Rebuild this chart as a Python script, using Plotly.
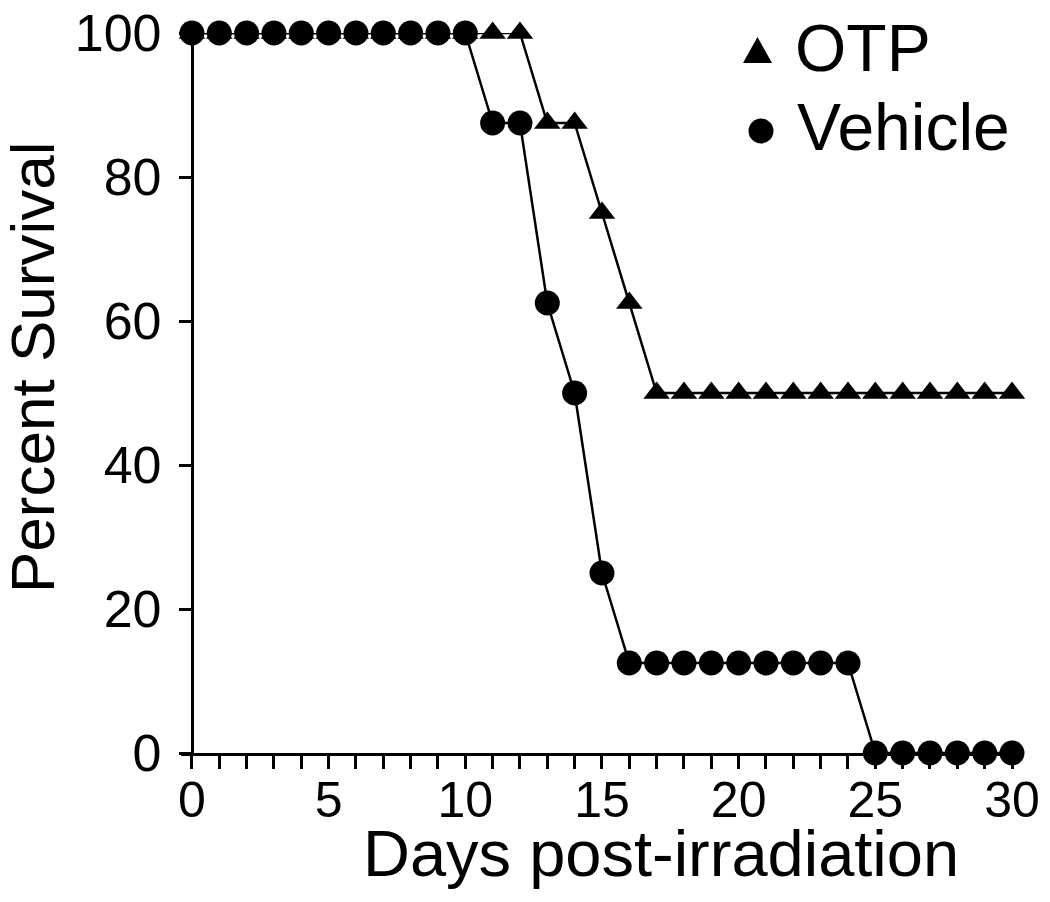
import plotly.graph_objects as go

days = [0, 1, 2, 3, 4, 5, 6, 7, 8, 9, 10, 11, 12, 13, 14, 15,
        16, 17, 18, 19, 20, 21, 22, 23, 24, 25, 26, 27, 28, 29, 30]
otp = [100, 100, 100, 100, 100, 100, 100, 100, 100, 100, 100, 100, 100,
       87.5, 87.5, 75, 62.5,
       50, 50, 50, 50, 50, 50, 50, 50, 50, 50, 50, 50, 50, 50]
vehicle = [100, 100, 100, 100, 100, 100, 100, 100, 100, 100, 100,
           87.5, 87.5, 62.5, 50, 25,
           12.5, 12.5, 12.5, 12.5, 12.5, 12.5, 12.5, 12.5, 12.5,
           0, 0, 0, 0, 0, 0]
series_names = ["OTP", "Vehicle"]
x_ticks = [0, 5, 10, 15, 20, 25, 30]
y_ticks = [0, 20, 40, 60, 80, 100]

FONT = "Arial, Liberation Sans, Helvetica, sans-serif"
X0 = -0.4
X1 = 30

# the page body adds an 8 px margin around the figure
OFF = 8
W, H = 1050, 902
# plot-area box in window pixels
L, R, T, B = 181, 1012, 33, 753
def px(xp):
    return (xp - L) / (R - L)
def py(yp):
    return (B - yp) / (B - T)

fig = go.Figure()
fig.add_trace(go.Scatter(
    x=days, y=otp, mode="lines+markers", name=series_names[0], showlegend=False,
    line=dict(color="black", width=2.5),
    marker=dict(symbol="triangle-up", size=23, color="black"),
    cliponaxis=False,
))
fig.add_trace(go.Scatter(
    x=days, y=vehicle, mode="lines+markers", name=series_names[1], showlegend=False,
    line=dict(color="black", width=2.5),
    marker=dict(symbol="circle", size=25, color="black"),
    cliponaxis=False,
))

# key: triangle + circle symbols drawn as shapes, names as text
shapes = [
    dict(type="path", xref="paper", yref="paper",
         path="M {:.4f},{:.4f} L {:.4f},{:.4f} L {:.4f},{:.4f} Z".format(
             px(743), py(63), px(772), py(63), px(757.5), py(37)),
         fillcolor="black", line=dict(width=0)),
    dict(type="circle", xref="paper", yref="paper",
         x0=px(748.5), x1=px(773.5), y0=py(143.5), y1=py(118.5),
         fillcolor="black", line=dict(width=0)),
]

fig.update_layout(
    width=W - OFF, height=H - OFF,
    margin=dict(l=L - OFF, r=W - R, t=T - OFF, b=H - B),
    paper_bgcolor="white", plot_bgcolor="white",
    font=dict(family=FONT, color="black"),
    showlegend=False,
    xaxis=dict(
        range=[X0, X1], showgrid=False, zeroline=False, automargin=False,
        showline=True, linecolor="black", linewidth=3,
        tickmode="array", tickvals=x_ticks,
        ticks="outside", ticklen=13, tickwidth=3, tickcolor="black",
        ticklabelstandoff=-12, ticklabeloverflow="allow",
        tickfont=dict(size=50, family=FONT, color="black"),
        minor=dict(dtick=1, tick0=0, ticks="outside", ticklen=13,
                   tickwidth=3, tickcolor="black", showgrid=False),
    ),
    yaxis=dict(
        range=[0, 100], showgrid=False, zeroline=False, automargin=False,
        anchor="free", position=(0 - X0) / (X1 - X0),
        showline=True, linecolor="black", linewidth=3,
        tickmode="array", tickvals=y_ticks,
        ticks="outside", ticklen=12, tickwidth=3, tickcolor="black",
        ticklabelstandoff=7, ticklabeloverflow="allow",
        tickfont=dict(size=52, family=FONT, color="black"),
    ),
    shapes=shapes,
    annotations=[
        dict(text=series_names[0], xref="paper", yref="paper",
             x=px(793), y=py(48), xanchor="left", yanchor="middle",
             showarrow=False, font=dict(size=66, family=FONT, color="black")),
        dict(text=series_names[1], xref="paper", yref="paper",
             x=px(795), y=py(127), xanchor="left", yanchor="middle",
             showarrow=False, font=dict(size=66, family=FONT, color="black")),
        dict(text="Days post-irradiation", xref="paper", yref="paper",
             x=px(361), y=py(853), xanchor="left", yanchor="middle",
             showarrow=False, font=dict(size=65, family=FONT, color="black")),
        dict(text="Percent Survival", xref="paper", yref="paper",
             x=px(32), y=py(368), xanchor="center", yanchor="middle",
             textangle=-90, showarrow=False,
             font=dict(size=62, family=FONT, color="black")),
    ],
)

fig.write_html("out.html")
